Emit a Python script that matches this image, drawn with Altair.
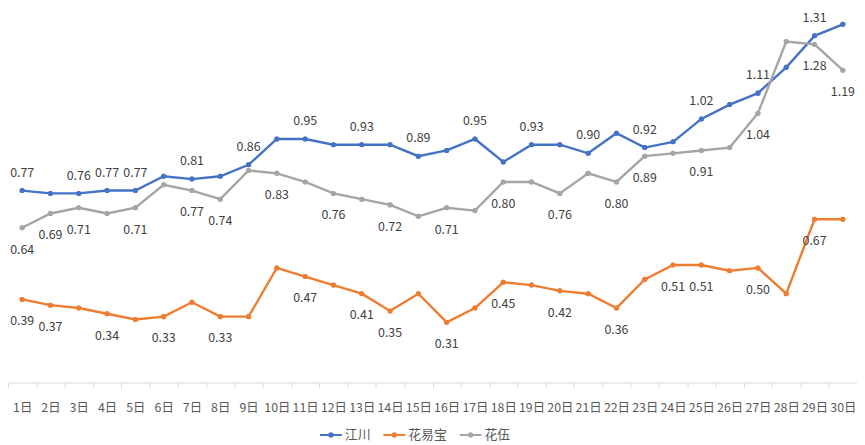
import altair as alt
import pandas as pd

FONT = "Noto Sans CJK SC"

days = ["1日", "2日", "3日", "4日", "5日", "6日", "7日", "8日", "9日", "10日",
        "11日", "12日", "13日", "14日", "15日", "16日", "17日", "18日", "19日", "20日",
        "21日", "22日", "23日", "24日", "25日", "26日", "27日", "28日", "29日", "30日"]

series_names = ["江川", "花易宝", "花伍"]
series_colors = ["#4472C4", "#ED7D31", "#A5A5A5"]

jiangchuan = [0.77, 0.76, 0.76, 0.77, 0.77, 0.82, 0.81, 0.82, 0.86, 0.95,
              0.95, 0.93, 0.93, 0.93, 0.89, 0.91, 0.95, 0.87, 0.93, 0.93,
              0.90, 0.97, 0.92, 0.94, 1.02, 1.07, 1.11, 1.20, 1.31, 1.35]
huayibao = [0.39, 0.37, 0.36, 0.34, 0.32, 0.33, 0.38, 0.33, 0.33, 0.50,
            0.47, 0.44, 0.41, 0.35, 0.41, 0.31, 0.36, 0.45, 0.44, 0.42,
            0.41, 0.36, 0.46, 0.51, 0.51, 0.49, 0.50, 0.41, 0.67, 0.67]
huawu = [0.64, 0.69, 0.71, 0.69, 0.71, 0.79, 0.77, 0.74, 0.84, 0.83,
         0.80, 0.76, 0.74, 0.72, 0.68, 0.71, 0.70, 0.80, 0.80, 0.76,
         0.83, 0.80, 0.89, 0.90, 0.91, 0.92, 1.04, 1.29, 1.28, 1.19]

# days (1-based) whose value label is shown
jiangchuan_labeled = [1, 3, 4, 5, 7, 9, 11, 13, 15, 17, 19, 21, 23, 25, 27, 29]
huayibao_labeled = [1, 2, 4, 6, 8, 11, 13, 14, 16, 18, 20, 22, 24, 25, 27, 29]
huawu_labeled = [1, 2, 3, 5, 7, 8, 10, 12, 14, 16, 18, 20, 22, 23, 25, 27, 29, 30]

label_side = {"江川": "above", "花易宝": "below", "花伍": "below"}

rows = []
for name, vals, lab in [("江川", jiangchuan, jiangchuan_labeled),
                        ("花易宝", huayibao, huayibao_labeled),
                        ("花伍", huawu, huawu_labeled)]:
    for i, v in enumerate(vals):
        rows.append({"day": days[i], "series": name, "value": v,
                     "show": (i + 1) in lab, "side": label_side[name]})
df = pd.DataFrame(rows)

SYMBOL = ("M-1,-0.09L1,-0.09L1,0.09L-1,0.09Z "
          "M-0.26,0A0.26,0.26,0,1,1,0.26,0A0.26,0.26,0,1,1,-0.26,0Z")

legend = alt.Legend(orient="none", legendX=315, legendY=418,
                    direction="horizontal", title=None,
                    symbolType=SYMBOL, symbolSize=484,
                    symbolStrokeWidth=0,
                    labelFontSize=13, labelColor="#595959",
                    labelFont=FONT, columnPadding=12,
                    labelOffset=3, padding=0)

x = alt.X("day:O", sort=days,
          scale=alt.Scale(type="band", paddingInner=0, paddingOuter=0),
          axis=alt.Axis(title=None, labelAngle=0, tickBand="extent",
                        domainColor="#d9d9d9", tickColor="#d9d9d9", tickSize=5,
                        labelColor="#595959", labelFontSize=12.5, labelFont=FONT,
                        labelPadding=14, labelOverlap=False, grid=False))
y = alt.Y("value:Q", scale=alt.Scale(domain=[0.1, 1.40], nice=False, zero=False),
          axis=None)
color = alt.Color("series:N", scale=alt.Scale(domain=series_names, range=series_colors),
                  legend=legend)

base = alt.Chart(df)

lines = base.mark_line(strokeWidth=2.4).encode(x=x, y=y, color=color)
points = base.mark_circle(size=26, opacity=1).encode(x=x, y=y, color=color)
above = base.transform_filter("datum.show && datum.side == 'above'").mark_text(
    dy=-18, baseline="middle", fontSize=12.5, font=FONT, color="#404040"
).encode(x=x, y=y, text=alt.Text("value:Q", format=".2f"))
below = base.transform_filter("datum.show && datum.side == 'below'").mark_text(
    dy=22, baseline="middle", fontSize=12.5, font=FONT, color="#404040"
).encode(x=x, y=y, text=alt.Text("value:Q", format=".2f"))

chart = alt.layer(points, lines, points, above, below).properties(
    width=857, height=376,
    padding={"left": 0, "top": 0, "right": 0, "bottom": 62},
    autosize=alt.AutoSizeParams(type="none"),
    background="white",
).configure_view(stroke=None)

chart.save("out.html", embed_options={"renderer": "svg", "actions": False})
